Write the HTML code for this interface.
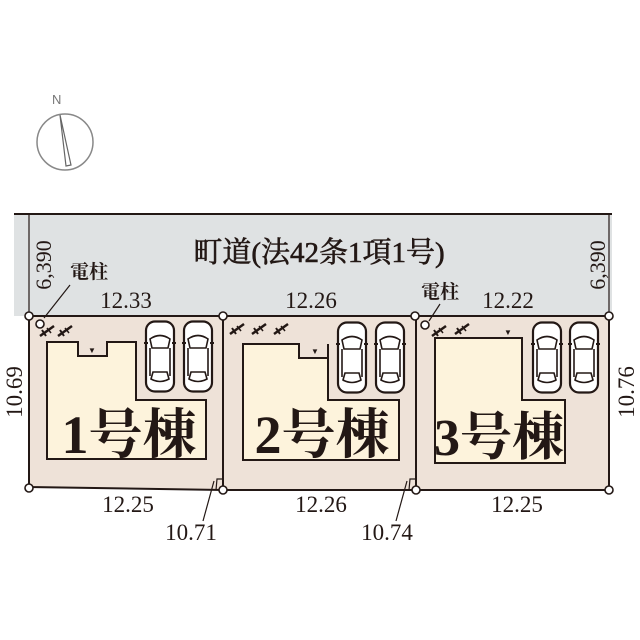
<!DOCTYPE html>
<html><head><meta charset="utf-8"><style>
html,body{margin:0;padding:0;background:#fff;}
svg{display:block;}
text{font-family:"Liberation Serif","Noto Serif CJK SC",serif;fill:#231815;}
</style></head><body>
<svg width="640" height="640" viewBox="0 0 640 640" xmlns="http://www.w3.org/2000/svg">
<defs>
<g id="car">
<rect x="1" y="0.5" width="28" height="70" rx="9" fill="#fff" stroke="#231815" stroke-width="2.2"/>
<path d="M5 18 Q15 11 25 18 L23 27 L7 27 Z" fill="#fff" stroke="#231815" stroke-width="1.6"/>
<path d="M6 58 Q15 63 24 58 L22 51 L8 51 Z" fill="#fff" stroke="#231815" stroke-width="1.6"/>
<line x1="5" y1="27" x2="5" y2="55" stroke="#231815" stroke-width="1.6"/>
<line x1="25" y1="27" x2="25" y2="55" stroke="#231815" stroke-width="1.6"/>
<line x1="-1" y1="22" x2="3" y2="22" stroke="#231815" stroke-width="2"/>
<line x1="27" y1="22" x2="31" y2="22" stroke="#231815" stroke-width="2"/>
</g>
<g id="tree">
<line x1="0" y1="10" x2="14" y2="0" stroke="#231815" stroke-width="2.5"/>
<line x1="2" y1="4" x2="6" y2="10" stroke="#231815" stroke-width="2"/>
<line x1="7" y1="2" x2="11" y2="7" stroke="#231815" stroke-width="1.5"/>
</g>
</defs>

<text x="52" y="104" font-size="13" style="font-family:'Liberation Sans',sans-serif;fill:#777">N</text>
<circle cx="65" cy="142" r="28" fill="none" stroke="#888" stroke-width="1.5"/>
<polygon points="60,115 71,165 66,166" fill="#fff" stroke="#666" stroke-width="1.2"/>

<rect x="14" y="214" width="598" height="102" fill="#dfe2e3"/>
<line x1="14" y1="214" x2="612" y2="214" stroke="#231815" stroke-width="2"/>
<line x1="29" y1="214" x2="29" y2="316" stroke="#231815" stroke-width="1.2"/>
<line x1="609" y1="214" x2="609" y2="316" stroke="#231815" stroke-width="1.2"/>
<text x="319" y="262" font-size="29" text-anchor="middle" stroke="#231815" stroke-width="0.6">町道(法42条1項1号)</text>
<text transform="translate(51,265) rotate(-90)" font-size="22" text-anchor="middle">6,390</text>
<text transform="translate(605,265) rotate(-90)" font-size="22" text-anchor="middle">6,390</text>

<polygon points="29,316 609,316 609,490 416,490 223,490 29,487" fill="#eee2d8" stroke="#231815" stroke-width="2"/>
<line x1="223" y1="316" x2="223" y2="490" stroke="#231815" stroke-width="2"/>
<line x1="416" y1="316" x2="416" y2="490" stroke="#231815" stroke-width="2"/>
<polyline points="216,490 217,479 223,479" fill="none" stroke="#231815" stroke-width="1.2"/>
<polyline points="409,490 410,479 416,479" fill="none" stroke="#231815" stroke-width="1.2"/>

<polygon points="47,342 78,342 78,356 107,356 107,342 136,342 136,400 206,400 206,459 47,459" fill="#fdf3dc" stroke="#231815" stroke-width="2"/>
<polygon points="243,344 299,344 299,358 328,358 328,400 399,400 399,460 243,460" fill="#fdf3dc" stroke="none"/>
<polyline points="328,344 328,400 399,400 399,460 243,460 243,344 299,344 299,358 328,358" fill="none" stroke="#231815" stroke-width="2"/>
<polygon points="435,338 522,338 522,400 565,400 565,463 435,463" fill="#fdf3dc" stroke="#231815" stroke-width="2"/>
<text x="92" y="353" font-size="8" text-anchor="middle">▼</text>
<text x="315" y="354" font-size="8" text-anchor="middle">▼</text>
<text x="508" y="335" font-size="8" text-anchor="middle">▼</text>

<text x="129" y="453" font-size="54" text-anchor="middle" font-weight="bold">1号棟</text>
<text x="322" y="453" font-size="54" text-anchor="middle" font-weight="bold">2号棟</text>
<text x="499" y="455" font-size="52" text-anchor="middle" font-weight="bold">3号棟</text>

<use href="#car" x="145" y="321"/><use href="#car" x="183" y="321"/>
<use href="#car" x="337" y="322"/><use href="#car" x="375" y="322"/>
<use href="#car" x="532" y="322"/><use href="#car" x="569" y="322"/>

<use href="#tree" x="40" y="326"/><use href="#tree" x="58" y="326"/>
<use href="#tree" x="230" y="324"/><use href="#tree" x="252" y="324"/><use href="#tree" x="274" y="324"/>
<use href="#tree" x="432" y="326"/><use href="#tree" x="455" y="324"/>

<g fill="#fff" stroke="#231815" stroke-width="1.6">
<circle cx="29" cy="316" r="4"/><circle cx="223" cy="316" r="4"/><circle cx="415" cy="316" r="4"/><circle cx="609" cy="316" r="4"/>
<circle cx="29" cy="488" r="4"/><circle cx="223" cy="490" r="4"/><circle cx="416" cy="490" r="4"/><circle cx="609" cy="490" r="4"/>
<circle cx="40" cy="324" r="4"/><circle cx="425" cy="325" r="4"/>
</g>
<line x1="44" y1="318" x2="70" y2="285" stroke="#231815" stroke-width="1.2"/>
<line x1="429" y1="321" x2="440" y2="304" stroke="#231815" stroke-width="1.2"/>
<text x="89" y="278" font-size="19" text-anchor="middle" font-weight="bold">電柱</text>
<text x="440" y="298" font-size="19" text-anchor="middle" font-weight="bold">電柱</text>

<g font-size="23">
<text x="126" y="308" text-anchor="middle">12.33</text>
<text x="311" y="308" text-anchor="middle">12.26</text>
<text x="508" y="308" text-anchor="middle">12.22</text>
<text x="128" y="512" text-anchor="middle">12.25</text>
<text x="321" y="512" text-anchor="middle">12.26</text>
<text x="517" y="512" text-anchor="middle">12.25</text>
<text x="191" y="540" text-anchor="middle">10.71</text>
<text x="387" y="540" text-anchor="middle">10.74</text>
<text transform="translate(22,392) rotate(-90)" text-anchor="middle">10.69</text>
<text transform="translate(634,392) rotate(-90)" text-anchor="middle">10.76</text>
</g>
<line x1="214" y1="481" x2="203" y2="521" stroke="#231815" stroke-width="1.2"/>
<line x1="407" y1="481" x2="396" y2="521" stroke="#231815" stroke-width="1.2"/>
</svg>
</body></html>
